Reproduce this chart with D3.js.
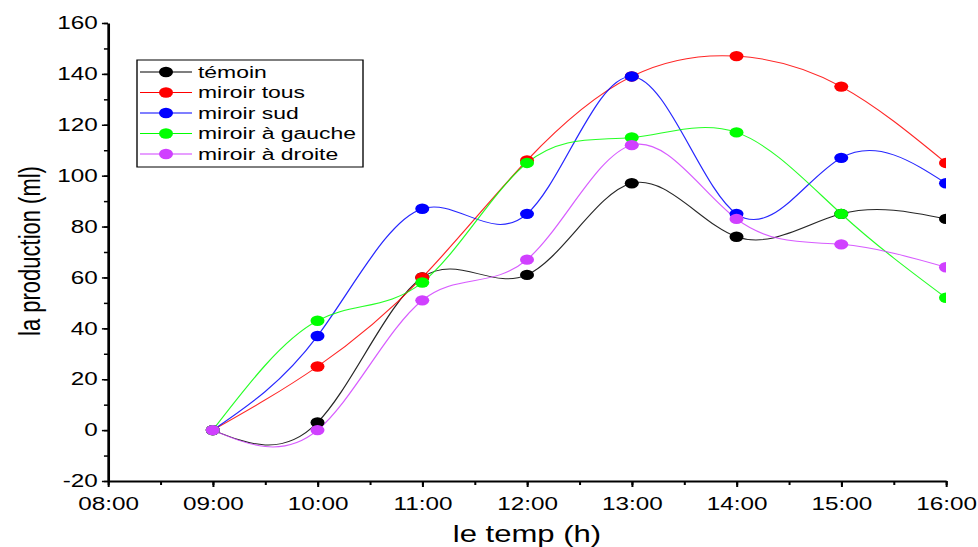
<!DOCTYPE html>
<html>
<head>
<meta charset="utf-8">
<script src="https://cdn.jsdelivr.net/npm/d3@7"></script>
<style>
  body { margin: 0; background: #fff; }
  svg text { font-family: "Liberation Sans", Arial, sans-serif; fill: #000; }
</style>
</head>
<body>
<svg id="chart" width="978" height="547"></svg>
<script>
// données
const hours = [9, 10, 11, 12, 13, 14, 15, 16];
const temoin = [0, 3, 60, 61, 97, 76, 85, 83];
const miroirTous = [0, 25, 60, 106, 139, 147, 135, 105];
const miroirSud = [0, 37, 87, 85, 139, 85, 107, 97];
const miroirGauche = [0, 43, 58, 105, 115, 117, 85, 52];
const miroirDroite = [0, 0, 51, 67, 112, 83, 73, 64];

const seriesNames = ["témoin", "miroir tous", "miroir sud", "miroir à gauche", "miroir à droite"];
const seriesColors = ["#000000", "#ff0000", "#0000ff", "#00ff00", "#d040ff"];
const seriesValues = [temoin, miroirTous, miroirSud, miroirGauche, miroirDroite];

const xTicks = [8, 9, 10, 11, 12, 13, 14, 15, 16];
const xTickLabels = ["08:00", "09:00", "10:00", "11:00", "12:00", "13:00", "14:00", "15:00", "16:00"];
const yTicks = [-20, 0, 20, 40, 60, 80, 100, 120, 140, 160];

// l'image d'origine est étirée horizontalement
const sx = 1.35;

const svg = d3.select("#chart");
const g = svg.append("g").attr("transform", `scale(${sx},1)`);

const x = d3.scaleLinear().domain([8, 16]).range([108 / sx, 946 / sx]);
const y = d3.scaleLinear().domain([-20, 160]).range([481, 23]);

// clip pour couper les marqueurs à 16:00
g.append("clipPath").attr("id", "plot-clip")
  .append("rect")
  .attr("x", x(8)).attr("y", y(160) - 10)
  .attr("width", x(16) - x(8)).attr("height", y(-20) - y(160) + 10);

const plot = g.append("g").attr("clip-path", "url(#plot-clip)");

const line = d3.line()
  .x((d, i) => x(hours[i]))
  .y(d => y(d))
  .curve(d3.curveNatural);

seriesValues.forEach((vals, k) => {
  plot.append("path")
    .datum(vals)
    .attr("d", line)
    .attr("fill", "none")
    .attr("stroke", seriesColors[k])
    .attr("stroke-width", 1)
    .attr("stroke-opacity", 0.85);
});

seriesValues.forEach((vals, k) => {
  plot.selectAll(".pt" + k)
    .data(vals)
    .enter()
    .append("circle")
    .attr("cx", (d, i) => x(hours[i]))
    .attr("cy", d => y(d))
    .attr("r", 5.2)
    .attr("fill", seriesColors[k]);
});

// axes
const yMinor = d3.range(-20, 161, 10);
g.append("g")
  .attr("transform", `translate(${x(8)},0)`)
  .call(d3.axisLeft(y).tickValues(yMinor).tickSize(3).tickFormat("").tickSizeOuter(0))
  .call(a => a.select(".domain").remove())
  .call(a => a.selectAll("line").attr("stroke-width", 1.5));

const yAxis = g.append("g")
  .attr("transform", `translate(${x(8)},0)`)
  .call(d3.axisLeft(y).tickValues(yTicks).tickSize(4.5).tickPadding(3)
    .tickFormat(d => String(d)).tickSizeOuter(0));
yAxis.select(".domain").attr("stroke-width", 2);
yAxis.selectAll("line").attr("stroke-width", 1.5);
yAxis.selectAll("text").style("font-size", "18px");

const xMinor = d3.range(8, 16.01, 0.5);
g.append("g")
  .attr("transform", `translate(0,${y(-20)})`)
  .call(d3.axisBottom(x).tickValues(xMinor).tickSize(4).tickFormat("").tickSizeOuter(0))
  .call(a => a.select(".domain").remove())
  .call(a => a.selectAll("line").attr("stroke-width", 1.5));

const xAxis = g.append("g")
  .attr("transform", `translate(0,${y(-20)})`)
  .call(d3.axisBottom(x).tickValues(xTicks).tickSize(6).tickPadding(10)
    .tickFormat((d, i) => xTickLabels[i]).tickSizeOuter(0));
xAxis.select(".domain").attr("stroke-width", 2);
xAxis.selectAll("line").attr("stroke-width", 1.5);
xAxis.selectAll("text").style("font-size", "18px");

// titres des axes
g.append("text")
  .attr("transform", `translate(${40 / sx},251) rotate(-90)`)
  .attr("text-anchor", "middle")
  .style("font-size", "22px")
  .text("la production (ml)");

g.append("text")
  .attr("x", (x(8) + x(16)) / 2)
  .attr("y", 542)
  .attr("text-anchor", "middle")
  .style("font-size", "23px")
  .text("le temp (h)");

// légende
const leg = g.append("g");
leg.append("rect")
  .attr("x", 137 / sx).attr("y", 60)
  .attr("width", (363 - 137) / sx).attr("height", 107)
  .attr("fill", "#fff").attr("stroke", "#000").attr("stroke-width", 1);

seriesNames.forEach((name, k) => {
  const ly = 72 + k * 20.5;
  leg.append("line")
    .attr("x1", 140 / sx).attr("x2", 192 / sx)
    .attr("y1", ly).attr("y2", ly)
    .attr("stroke", seriesColors[k]).attr("stroke-width", 1);
  leg.append("circle")
    .attr("cx", 166 / sx).attr("cy", ly).attr("r", 5.2)
    .attr("fill", seriesColors[k]);
  leg.append("text")
    .attr("x", 198 / sx).attr("y", ly)
    .attr("dy", "0.35em")
    .style("font-size", "17px")
    .text(name);
});
</script>
</body>
</html>
